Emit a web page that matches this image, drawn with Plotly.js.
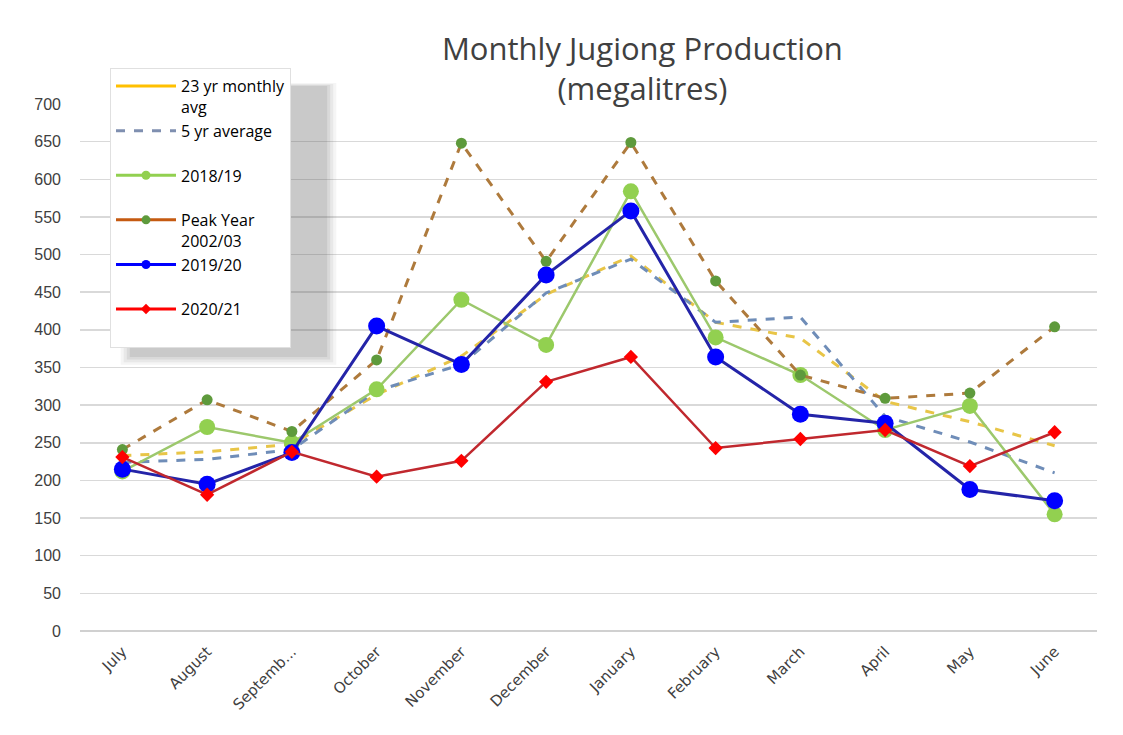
<!DOCTYPE html>
<html>
<head>
<meta charset="utf-8">
<script src="https://cdn.plot.ly/plotly-3.0.1.min.js"></script>
<style>html,body{margin:0;padding:0;background:#fff}#chart{width:1123px;height:735px}</style>
</head>
<body>
<div id="chart"></div>
<script>
const months = ["July","August","September","October","November","December","January","February","March","April","May","June"];
const tickLabels = ["July","August","Septemb...","October","November","December","January","February","March","April","May","June"];
const avg23 = [233, 238, 248, 314, 365, 447, 498, 410, 389, 305, 278, 246];
const avg5 = [224, 228, 241, 319, 354, 449, 494, 410, 417, 285, 251, 210];
const y2018 = [212, 271, 250, 321, 440, 380, 584, 390, 340, 267, 299, 155];
const peak = [241, 307, 265, 360, 648, 491, 649, 465, 340, 309, 316, 404];
const y2019 = [215, 195, 237, 405, 354, 473, 558, 364, 288, 276, 188, 173];
const y2020 = [231, 181, 238, 205, 226, 331, 364, 243, 255, 267, 219, 264];
const legendNames = ["23 yr monthly<br>avg", "5 yr average<br>&nbsp;", "2018/19<br>&nbsp;", "Peak Year<br>2002/03", "2019/20<br>&nbsp;", "2020/21<br>&nbsp;"];

const traces = [
  {x: months, y: avg23, mode: 'lines', line: {color: '#E8C547', width: 3, dash: 'dash'}, showlegend: false},
  {x: months, y: avg5, mode: 'lines', line: {color: '#6F8DB8', width: 3, dash: 'dash'}, showlegend: false},
  {x: months, y: y2018, mode: 'lines+markers', line: {color: '#9CC86C', width: 2.5}, marker: {color: '#92D050', size: 16}, showlegend: false},
  {x: months, y: peak, mode: 'lines+markers', line: {color: '#AE7A3C', width: 3, dash: 'dash'}, marker: {color: '#5E9A3C', size: 11}, showlegend: false},
  {x: months, y: y2019, mode: 'lines+markers', line: {color: '#2424A8', width: 3}, marker: {color: '#0000FF', size: 17}, showlegend: false},
  {x: months, y: y2020, mode: 'lines+markers', line: {color: '#C0282E', width: 2.5}, marker: {color: '#FF0000', size: 11, symbol: 'diamond'}, showlegend: false},
  // legend entries
  {x: [null], y: [null], name: legendNames[0], mode: 'lines', line: {color: '#FFC000', width: 3}},
  {x: [null], y: [null], name: legendNames[1], mode: 'lines', line: {color: '#7F8FB0', width: 3, dash: 'dash'}},
  {x: [null], y: [null], name: legendNames[2], mode: 'lines+markers', line: {color: '#92D050', width: 3}, marker: {color: '#92D050', size: 9}},
  {x: [null], y: [null], name: legendNames[3], mode: 'lines+markers', line: {color: '#C55A11', width: 3}, marker: {color: '#5E9A3C', size: 9}},
  {x: [null], y: [null], name: legendNames[4], mode: 'lines+markers', line: {color: '#0000FF', width: 3}, marker: {color: '#0000FF', size: 9}},
  {x: [null], y: [null], name: legendNames[5], mode: 'lines+markers', line: {color: '#FF0000', width: 3}, marker: {color: '#FF0000', size: 8, symbol: 'diamond'}}
];

const shadowRects = [];
const shadowLevels = [
  [0.040, 0.252, 0.505, 1.040, 0.06],
  [0.043, 0.249, 0.510, 1.038, 0.08],
  [0.046, 0.246, 0.515, 1.036, 0.10],
  [0.049, 0.243, 0.520, 1.034, 0.12]
];
shadowLevels.forEach(function (s) {
  shadowRects.push({type: 'rect', xref: 'paper', yref: 'paper', x0: s[0], x1: s[1], y0: s[2], y1: s[3], fillcolor: 'rgba(90,90,90,' + s[4] + ')', line: {width: 0}, layer: 'above'});
});

const layout = {
  width: 1123, height: 735,
  margin: {l: 80, r: 26, t: 104, b: 104},
  paper_bgcolor: '#fff', plot_bgcolor: '#fff',
  font: {family: 'Liberation Sans, Arial, sans-serif', color: '#404040'},
  title: {text: 'Monthly Jugiong Production<br>(megalitres)', x: 0.553, xref: 'paper', xanchor: 'center', yref: 'container', y: 0.919, yanchor: 'top', font: {size: 31, color: '#404040', family: 'Open Sans, sans-serif'}},
  xaxis: {type: 'category', range: [-0.5, 11.5], automargin: false, tickvals: months, ticktext: tickLabels, tickangle: -45, showgrid: false, showline: false, zeroline: false, ticks: '', ticklabelstandoff: 8, tickfont: {size: 15, color: '#404040', family: 'DejaVu Sans, sans-serif'}},
  yaxis: {range: [0, 700], automargin: false, dtick: 50, showgrid: true, gridcolor: '#D9D9D9', gridwidth: 1.5, zeroline: true, zerolinecolor: '#D0D0D0', zerolinewidth: 2, showline: false, ticks: '', ticklabelstandoff: 18, tickfont: {size: 16, color: '#404040'}},
  legend: {x: 0.0295, y: 1.068, xanchor: 'left', yanchor: 'top', bgcolor: '#fff', bordercolor: '#E0E0E0', borderwidth: 1, font: {size: 16, color: '#000', family: 'Open Sans, sans-serif'}, valign: 'top', itemwidth: 60, traceorder: 'normal'},
  shapes: shadowRects
};

Plotly.newPlot('chart', traces, layout, {displayModeBar: false, staticPlot: true});
</script>
</body>
</html>
